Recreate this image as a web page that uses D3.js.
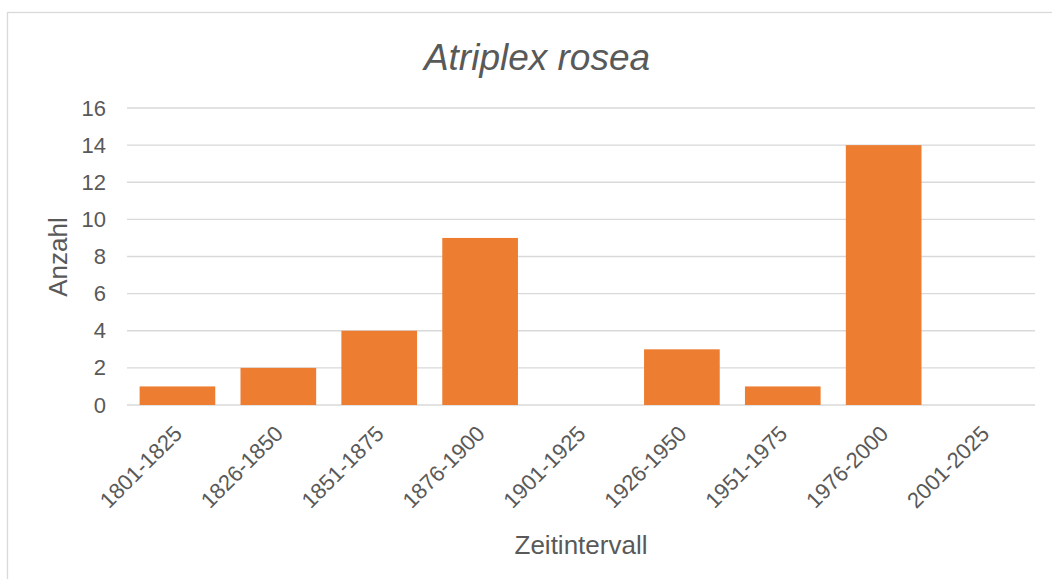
<!DOCTYPE html>
<html>
<head>
<meta charset="utf-8">
<script src="https://cdn.jsdelivr.net/npm/d3@7"></script>
<style>
  body { margin: 0; background: #fff; }
  text { font-family: "Liberation Sans", Arial, sans-serif; fill: #595959; }
</style>
</head>
<body>
<div id="chart"></div>
<script>
var width = 1052,
    height = 579;

// data
const categories = ["1801-1825", "1826-1850", "1851-1875", "1876-1900", "1901-1925",
                    "1926-1950", "1951-1975", "1976-2000", "2001-2025"];
const counts = [1, 2, 4, 9, 0, 3, 1, 14, 0];
const yTicks = [0, 2, 4, 6, 8, 10, 12, 14, 16];

var margin = {left: 127, right: 17, top: 108, bottom: 174};

var svg = d3.select("#chart")
    .append("svg")
    .attr("width", width)
    .attr("height", height);

// chart border
svg.append("rect")
    .attr("x", 7.5).attr("y", 12.5)
    .attr("width", 1060).attr("height", 600)
    .attr("fill", "none")
    .attr("stroke", "#d9d9d9")
    .attr("stroke-width", 1.3);

var xScale = d3.scaleBand()
    .domain(categories)
    .range([margin.left, width - margin.right])
    .paddingInner(0.25)
    .paddingOuter(0.125);

var yScale = d3.scaleLinear()
    .domain([0, 16])
    .range([height - margin.bottom, margin.top]);

// gridlines
svg.append("g")
    .selectAll("line")
    .data(yTicks)
    .enter().append("line")
    .attr("x1", margin.left)
    .attr("x2", width - margin.right)
    .attr("y1", d => yScale(d))
    .attr("y2", d => yScale(d))
    .attr("stroke", "#d9d9d9")
    .attr("stroke-width", 1.3);

// y axis labels
var yAxis = d3.axisLeft(yScale).tickValues(yTicks).tickSize(0).tickPadding(21);
var gy = svg.append("g")
    .attr("transform", "translate(" + margin.left + ",0)")
    .call(yAxis);
gy.select(".domain").remove();
gy.selectAll("text")
    .style("font-family", "Liberation Sans, Arial, sans-serif")
    .style("font-size", "22px")
    .style("fill", "#595959");

// bars
svg.append("g")
    .selectAll("rect")
    .data(counts)
    .enter().append("rect")
    .attr("x", (d, i) => xScale(categories[i]))
    .attr("y", d => yScale(d))
    .attr("width", xScale.bandwidth())
    .attr("height", d => yScale(0) - yScale(d))
    .attr("fill", "#ed7d31");

// x axis labels, rotated
var xAxis = d3.axisBottom(xScale).tickSize(0).tickPadding(0);
var gx = svg.append("g")
    .attr("transform", "translate(0," + yScale(0) + ")")
    .call(xAxis);
gx.select(".domain").remove();
gx.selectAll("text")
    .style("font-family", "Liberation Sans, Arial, sans-serif")
    .style("font-size", "22px")
    .style("fill", "#595959")
    .attr("text-anchor", "end")
    .attr("dy", "0")
    .attr("transform", "translate(6,30) rotate(-45)");

// title
svg.append("text")
    .attr("x", 537)
    .attr("y", 70)
    .attr("text-anchor", "middle")
    .style("font-size", "37px")
    .style("font-style", "italic")
    .text("Atriplex rosea");

// axis titles
svg.append("text")
    .attr("transform", "translate(67," + 257 + ") rotate(-90)")
    .attr("text-anchor", "middle")
    .style("font-size", "26px")
    .text("Anzahl");

svg.append("text")
    .attr("x", 581)
    .attr("y", 554)
    .attr("text-anchor", "middle")
    .style("font-size", "26px")
    .text("Zeitintervall");
</script>
</body>
</html>
